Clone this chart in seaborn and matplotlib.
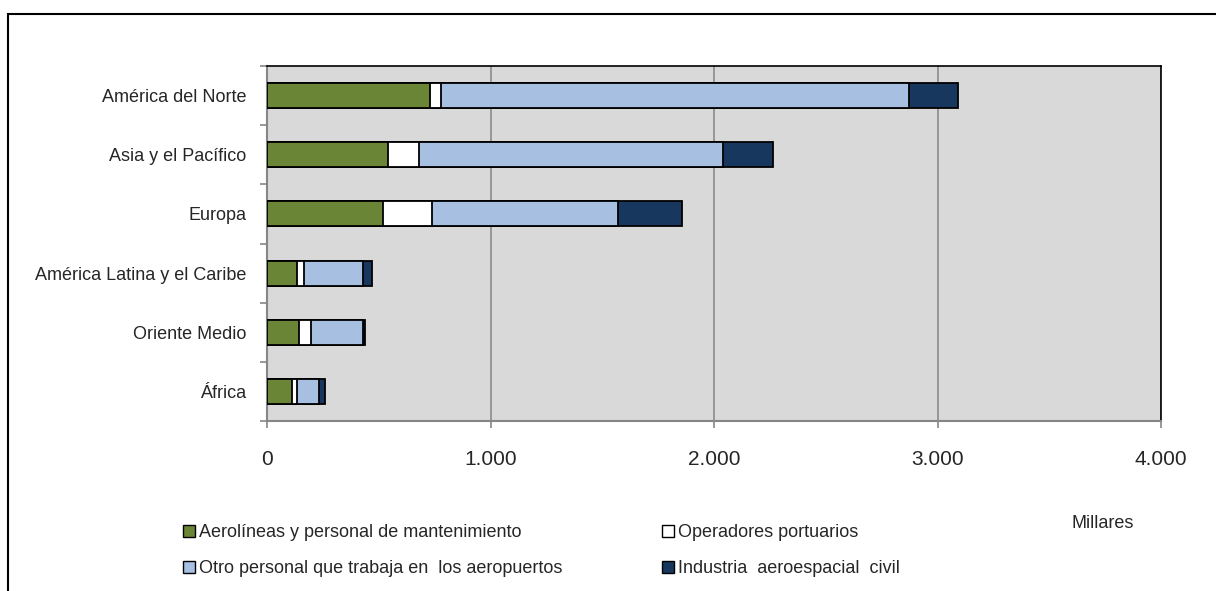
import numpy as np
import matplotlib
matplotlib.use("Agg")
import matplotlib.pyplot as plt
from matplotlib.patches import Patch, Rectangle
from matplotlib.ticker import FixedLocator, FuncFormatter
import seaborn as sns

# datos (miles de empleos)
regiones = ["América del Norte", "Asia y el Pacífico", "Europa",
            "América Latina y el Caribe", "Oriente Medio", "África"]
aerolineas = [731, 541, 519, 133, 142, 110]
operadores = [46, 141, 218, 33, 53, 23]
otro_personal = [2097, 1357, 833, 265, 235, 101]
aeroespacial = [219, 225, 287, 40, 10, 25]

series = ["Aerolíneas y personal de mantenimiento",
          "Operadores portuarios",
          "Otro personal que trabaja en  los aeropuertos",
          "Industria  aeroespacial  civil"]
colores = ["#6b8536", "#ffffff", "#a7bfe0", "#17375e"]
xticks = [0, 1000, 2000, 3000, 4000]

sns.set_style("white")
plt.rcParams["font.family"] = ["Liberation Sans Narrow", "Liberation Sans", "DejaVu Sans"]

fig = plt.figure(figsize=(12.16, 5.91), dpi=100)
ax = fig.add_axes([267 / 1216, 1 - 421 / 591, (1161 - 267) / 1216, (421 - 66) / 591])
ax.set_facecolor("#d9d9d9")

# barras apiladas: se dibujan los acumulados de mayor a menor
acumulado = np.cumsum([aerolineas, operadores, otro_personal, aeroespacial], axis=0)
for i in reversed(range(len(series))):
    sns.barplot(x=acumulado[i], y=regiones, orient="h", color=colores[i],
                saturation=1, edgecolor="black", linewidth=1.3, width=0.42,
                ax=ax, zorder=3)

ax.set_xlim(0, 4000)
ax.set_ylim(5.5, -0.5)
ax.set_xlabel("")
ax.set_ylabel("")
ax.set_xticks(xticks)
ax.xaxis.set_major_formatter(FuncFormatter(lambda v, p: f"{int(v):,}".replace(",", ".")))
ax.xaxis.grid(True, color="#8c8c8c", linewidth=1.2, zorder=0)
ax.yaxis.grid(False)
ax.set_axisbelow(True)

ax.yaxis.set_minor_locator(FixedLocator(np.arange(-0.5, 6, 1)))
ax.tick_params(axis="y", which="major", length=0, pad=15, labelsize=13)
ax.tick_params(axis="y", which="minor", direction="out", length=5, width=1.2, color="#868686", left=True)
ax.tick_params(axis="x", which="major", direction="out", length=5, width=1.2, color="#868686",
               pad=16, labelsize=15, bottom=True)

for lado in ["left", "bottom"]:
    ax.spines[lado].set_color("#868686")
    ax.spines[lado].set_linewidth(1.5)
for lado in ["top", "right"]:
    ax.spines[lado].set_color("black")
    ax.spines[lado].set_linewidth(1.2)

# leyenda
handles = [Patch(facecolor=c, edgecolor="black", linewidth=1) for c in colores]
orden = [0, 2, 1, 3]
fig.legend([handles[i] for i in orden], [series[i] for i in orden],
           loc="upper left", bbox_to_anchor=(183 / 1216, 1 - 524 / 591), ncol=2,
           frameon=False, fontsize=13, handlelength=0.65, handleheight=0.65,
           handletextpad=0.25, columnspacing=5.5, labelspacing=1.05,
           borderpad=0, borderaxespad=0)

fig.text(1103 / 1216, 1 - 523 / 591, "Millares", ha="center", va="center", fontsize=13)

# marco exterior del gráfico
fig.add_artist(Rectangle((8 / 1216, -0.1), 1.1, 1 - 14 / 591 + 0.1, transform=fig.transFigure,
                         fill=False, edgecolor="black", linewidth=1.5, clip_on=False))

fig.savefig("out.png", dpi=100)
